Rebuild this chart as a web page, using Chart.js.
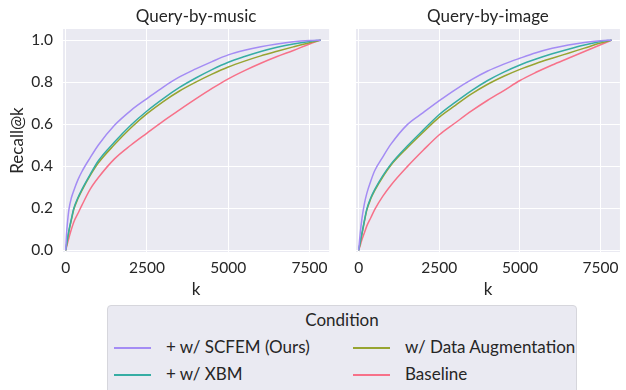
<!DOCTYPE html>
<html>
<head>
<meta charset="utf-8">
<script src="https://cdn.jsdelivr.net/npm/chart.js@4"></script>
<style>
  html, body { margin: 0; padding: 0; background: #ffffff; }
  body { width: 626px; height: 390px; overflow: hidden; position: relative; font-family: "Lato", sans-serif; color: #262626; }
  canvas { position: absolute; top: 0; }
  #c1 { left: 0px; }
  #c2 { left: 326px; }
  #legend { position: absolute; left: 107px; top: 305px; width: 470px; height: 100px; box-sizing: border-box;
            background: #eaeaf2; border: 1px solid #d6d6dc; border-radius: 4px; }
  #legend .ttl { position: absolute; left: 0; width: 100%; top: 3px; text-align: center; font-size: 17px; line-height: 22px; }
  #legend .item { position: absolute; font-size: 17px; line-height: 22px; white-space: nowrap; }
  #legend .sw { position: absolute; width: 37px; height: 1.6px; top: 11px; }
  #legend .lbl { position: absolute; top: 0; }
</style>
</head>
<body>
<canvas id="c1" width="335" height="300"></canvas>
<canvas id="c2" width="300" height="300"></canvas>
<div id="legend"></div>
<script>
// ---- data ----
const kValues = [0, 25, 50, 100, 175, 250, 375, 500, 750, 1000, 1500, 2000, 2500, 3000, 3500, 4000, 4500, 5000, 5500, 6000, 6500, 7000, 7500, 7840];

const seriesNames = ["+ w/ SCFEM (Ours)", "+ w/ XBM", "w/ Data Augmentation", "Baseline"];
const seriesColors = ["#a48cf4", "#36ada4", "#97a431", "#f77189"];

const musicScfem    = [0, 0.075, 0.125, 0.195, 0.25, 0.285, 0.335, 0.375, 0.44, 0.50, 0.595, 0.665, 0.722, 0.777, 0.825, 0.863, 0.898, 0.930, 0.952, 0.969, 0.982, 0.992, 0.998, 1.0];
const musicXbm      = [0, 0.025, 0.05, 0.095, 0.15, 0.20, 0.25, 0.29, 0.36, 0.425, 0.515, 0.595, 0.663, 0.722, 0.775, 0.820, 0.860, 0.895, 0.922, 0.946, 0.966, 0.982, 0.994, 1.0];
const musicAug      = [0, 0.025, 0.048, 0.092, 0.145, 0.195, 0.245, 0.285, 0.355, 0.415, 0.503, 0.582, 0.650, 0.708, 0.758, 0.800, 0.838, 0.872, 0.900, 0.925, 0.947, 0.968, 0.988, 1.0];
const musicBaseline = [0, 0.015, 0.03, 0.06, 0.10, 0.135, 0.175, 0.215, 0.29, 0.345, 0.435, 0.500, 0.558, 0.615, 0.668, 0.720, 0.770, 0.816, 0.855, 0.890, 0.922, 0.951, 0.982, 1.0];

const imageScfem    = [0, 0.045, 0.085, 0.15, 0.22, 0.27, 0.33, 0.38, 0.445, 0.505, 0.597, 0.655, 0.712, 0.765, 0.812, 0.853, 0.886, 0.914, 0.940, 0.961, 0.977, 0.989, 0.997, 1.0];
const imageXbm      = [0, 0.02, 0.04, 0.08, 0.14, 0.195, 0.25, 0.29, 0.355, 0.41, 0.495, 0.572, 0.646, 0.705, 0.760, 0.808, 0.848, 0.882, 0.910, 0.935, 0.957, 0.977, 0.994, 1.0];
const imageAug      = [0, 0.019, 0.038, 0.076, 0.135, 0.19, 0.245, 0.285, 0.35, 0.405, 0.487, 0.562, 0.634, 0.690, 0.744, 0.790, 0.828, 0.861, 0.889, 0.914, 0.938, 0.962, 0.986, 1.0];
const imageBaseline = [0, 0.012, 0.024, 0.05, 0.082, 0.115, 0.155, 0.195, 0.258, 0.31, 0.397, 0.476, 0.55, 0.607, 0.663, 0.714, 0.760, 0.808, 0.847, 0.882, 0.914, 0.946, 0.978, 1.0];

const xTicks = [0, 2500, 5000, 7500];
const yTicks = [0.0, 0.2, 0.4, 0.6, 0.8, 1.0];

const panelTitles = ["Query-by-music", "Query-by-image"];
const xTitle = "k";
const yTitle = "Recall@k";
const legendTitle = "Condition";

// ---- chart building ----
const FONT = "Lato";
const TXT = "#262626";

const bgPlugin = {
  id: "bg",
  beforeDraw(c) {
    const { ctx, chartArea: a } = c;
    ctx.save();
    ctx.fillStyle = "#eaeaf2";
    ctx.fillRect(a.left, a.top, a.right - a.left, a.bottom - a.top);
    ctx.restore();
  }
};

function makeDatasets(arrs) {
  return arrs.map((vals, i) => ({
    label: seriesNames[i],
    data: kValues.map((k, j) => ({ x: k, y: vals[j] })),
    borderColor: seriesColors[i],
    backgroundColor: seriesColors[i],
    borderWidth: 1.5,
    pointRadius: 0,
    cubicInterpolationMode: "monotone",
    fill: false
  }));
}

function makeChart(id, title, arrs, showY, yWidth, rightPad) {
  return new Chart(document.getElementById(id), {
    type: "line",
    data: { datasets: makeDatasets(arrs) },
    plugins: [bgPlugin],
    options: {
      responsive: false,
      animation: false,
      devicePixelRatio: 1,
      layout: { padding: { left: 0, right: rightPad, top: 0, bottom: 0 } },
      plugins: {
        legend: { display: false },
        tooltip: { enabled: false },
        title: {
          display: true, text: title, color: TXT, fullSize: false,
          font: { family: FONT, size: 17, weight: "normal", lineHeight: 1.2 },
          padding: { top: 6, bottom: 2.6 }
        }
      },
      scales: {
        x: {
          type: "linear", min: -83, max: 8100,
          afterBuildTicks: s => { s.ticks = xTicks.map(v => ({ value: v })); },
          afterFit: s => { s.height = 48; },
          grid: { color: "#ffffff", lineWidth: 1, drawTicks: false },
          border: { display: false },
          ticks: { color: TXT, padding: 7, font: { family: FONT, size: 15.5 }, maxRotation: 0, callback: v => String(v) },
          title: { display: true, text: xTitle, color: TXT, font: { family: FONT, size: 17, lineHeight: 1.2 }, padding: { top: 2, bottom: 0 } }
        },
        y: {
          type: "linear", min: -0.008, max: 1.053,
          afterBuildTicks: s => { s.ticks = yTicks.map(v => ({ value: v })); },
          afterFit: s => { s.width = yWidth; },
          grid: { color: "#ffffff", lineWidth: 1, drawTicks: false },
          border: { display: false },
          ticks: { display: showY, color: TXT, padding: 10, font: { family: FONT, size: 15.5 }, callback: v => v.toFixed(1) },
          title: { display: showY, text: yTitle, color: TXT, font: { family: FONT, size: 17, lineHeight: 1.2 }, padding: { top: 7, bottom: 0 } }
        }
      }
    }
  });
}

makeChart("c1", panelTitles[0], [musicScfem, musicXbm, musicAug, musicBaseline], true, 63, 5);
makeChart("c2", panelTitles[1], [imageScfem, imageXbm, imageAug, imageBaseline], false, 30, 3);

// ---- legend (HTML, 2 columns, column-major like matplotlib) ----
const legend = document.getElementById("legend");
const ttl = document.createElement("div");
ttl.className = "ttl";
ttl.textContent = legendTitle;
legend.appendChild(ttl);
const colX = [6, 245];
const rowY = [30, 57];
seriesNames.forEach((name, i) => {
  const col = Math.floor(i / 2), row = i % 2;
  const item = document.createElement("div");
  item.className = "item";
  item.style.left = colX[col] + "px";
  item.style.top = rowY[row] + "px";
  const sw = document.createElement("div");
  sw.className = "sw";
  sw.style.background = seriesColors[i];
  sw.style.left = "0px";
  const lbl = document.createElement("span");
  lbl.className = "lbl";
  lbl.style.left = "52px";
  lbl.textContent = name;
  item.appendChild(sw);
  item.appendChild(lbl);
  legend.appendChild(item);
});
</script>
</body>
</html>
